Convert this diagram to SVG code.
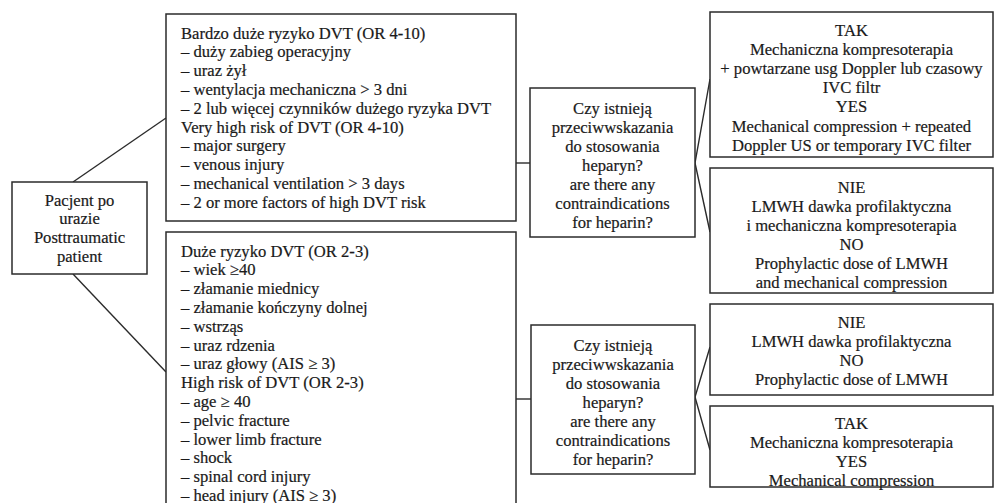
<svg xmlns="http://www.w3.org/2000/svg" width="994" height="503" viewBox="0 0 994 503">
<style>
.box{fill:#fff;stroke:#2b2b2b;stroke-width:1.5}
.ln{fill:none;stroke:#2b2b2b;stroke-width:1.4}
.t{font-family:'Liberation Serif','Times New Roman',serif;font-size:16.6px;fill:#1a1a1a;stroke:#1a1a1a;stroke-width:0.2}
.c{text-anchor:middle}
</style>
<rect width="994" height="503" fill="#fff"/>
<g id="connectors">
<line class="ln" x1="73" y1="182" x2="166" y2="118"/>
<line class="ln" x1="73" y1="274" x2="166" y2="372"/>
<line class="ln" x1="516" y1="163" x2="530" y2="163"/>
<line class="ln" x1="516" y1="399" x2="531" y2="399"/>
<polyline class="ln" points="710,79 695,163 710,232"/>
<polyline class="ln" points="710,347 695,397 710,450"/>
</g>
<g id="patient">
<rect class="box" x="12" y="182" width="135" height="92"/>
<text class="t c" x="79.5" y="205.5">Pacjent po</text>
<text class="t c" x="79.5" y="224.3">urazie</text>
<text class="t c" x="79.5" y="243.1">Posttraumatic</text>
<text class="t c" x="79.5" y="261.9">patient</text>
</g>
<g id="very-high-risk">
<rect class="box" x="166" y="14" width="350" height="207"/>
<text class="t" x="181" y="38.5">Bardzo duże ryzyko DVT (OR 4-10)</text>
<text class="t" x="181" y="57.3">– duży zabieg operacyjny</text>
<text class="t" x="181" y="76.1">– uraz żył</text>
<text class="t" x="181" y="94.9">– wentylacja mechaniczna &gt; 3 dni</text>
<text class="t" x="181" y="113.7">– 2 lub więcej czynników dużego ryzyka DVT</text>
<text class="t" x="181" y="132.5">Very high risk of DVT (OR 4-10)</text>
<text class="t" x="181" y="151.3">– major surgery</text>
<text class="t" x="181" y="170.1">– venous injury</text>
<text class="t" x="181" y="188.9">– mechanical ventilation &gt; 3 days</text>
<text class="t" x="181" y="207.7">– 2 or more factors of high DVT risk</text>
</g>
<g id="high-risk">
<rect class="box" x="166" y="232" width="350" height="290"/>
<text class="t" x="181" y="256.5">Duże ryzyko DVT (OR 2-3)</text>
<text class="t" x="181" y="275.3">– wiek  ≥40</text>
<text class="t" x="181" y="294.1">– złamanie miednicy</text>
<text class="t" x="181" y="312.9">– złamanie kończyny dolnej</text>
<text class="t" x="181" y="331.7">– wstrząs</text>
<text class="t" x="181" y="350.5">– uraz rdzenia</text>
<text class="t" x="181" y="369.3">– uraz głowy (AIS ≥ 3)</text>
<text class="t" x="181" y="388.1">High risk of DVT (OR 2-3)</text>
<text class="t" x="181" y="406.9">– age  ≥  40</text>
<text class="t" x="181" y="425.7">– pelvic fracture</text>
<text class="t" x="181" y="444.5">– lower limb fracture</text>
<text class="t" x="181" y="463.3">– shock</text>
<text class="t" x="181" y="482.1">– spinal cord injury</text>
<text class="t" x="181" y="500.9">– head injury (AIS ≥ 3)</text>
</g>
<g id="question-1">
<rect class="box" x="530" y="88" width="165" height="149"/>
<text class="t c" x="612.5" y="113.5">Czy istnieją</text>
<text class="t c" x="612.5" y="132.5">przeciwwskazania</text>
<text class="t c" x="612.5" y="151.5">do stosowania</text>
<text class="t c" x="612.5" y="170.5">heparyn?</text>
<text class="t c" x="612.5" y="189.5">are there any</text>
<text class="t c" x="612.5" y="208.5">contraindications</text>
<text class="t c" x="612.5" y="227.5">for heparin?</text>
</g>
<g id="question-2">
<rect class="box" x="531" y="325" width="164" height="149"/>
<text class="t c" x="613" y="350.5">Czy istnieją</text>
<text class="t c" x="613" y="369.5">przeciwwskazania</text>
<text class="t c" x="613" y="388.5">do stosowania</text>
<text class="t c" x="613" y="407.5">heparyn?</text>
<text class="t c" x="613" y="426.5">are there any</text>
<text class="t c" x="613" y="445.5">contraindications</text>
<text class="t c" x="613" y="464.5">for heparin?</text>
</g>
<g id="yes-1">
<rect class="box" x="710" y="12" width="283" height="145"/>
<text class="t c" x="851.5" y="35.5">TAK</text>
<text class="t c" x="851.5" y="54.5">Mechaniczna kompresoterapia</text>
<text class="t c" x="851.5" y="74">+ powtarzane usg Doppler lub czasowy</text>
<text class="t c" x="851.5" y="93">IVC filtr</text>
<text class="t c" x="851.5" y="112">YES</text>
<text class="t c" x="851.5" y="131.5">Mechanical compression + repeated</text>
<text class="t c" x="851.5" y="150.5">Doppler US or temporary IVC filter</text>
</g>
<g id="no-1">
<rect class="box" x="710" y="168" width="283" height="125"/>
<text class="t c" x="851.5" y="192.5">NIE</text>
<text class="t c" x="851.5" y="211.5">LMWH dawka profilaktyczna</text>
<text class="t c" x="851.5" y="230.5">i mechaniczna kompresoterapia</text>
<text class="t c" x="851.5" y="249.5">NO</text>
<text class="t c" x="851.5" y="269">Prophylactic dose of LMWH</text>
<text class="t c" x="851.5" y="288">and mechanical compression</text>
</g>
<g id="no-2">
<rect class="box" x="710" y="304" width="283" height="91"/>
<text class="t c" x="851.5" y="327.5">NIE</text>
<text class="t c" x="851.5" y="346.5">LMWH dawka profilaktyczna</text>
<text class="t c" x="851.5" y="365.5">NO</text>
<text class="t c" x="851.5" y="385">Prophylactic dose of LMWH</text>
</g>
<g id="yes-2">
<rect class="box" x="710" y="406" width="283" height="81"/>
<text class="t c" x="851.5" y="428.5">TAK</text>
<text class="t c" x="851.5" y="447.5">Mechaniczna kompresoterapia</text>
<text class="t c" x="851.5" y="466.5">YES</text>
<text class="t c" x="851.5" y="485.5">Mechanical compression</text>
</g>
</svg>
